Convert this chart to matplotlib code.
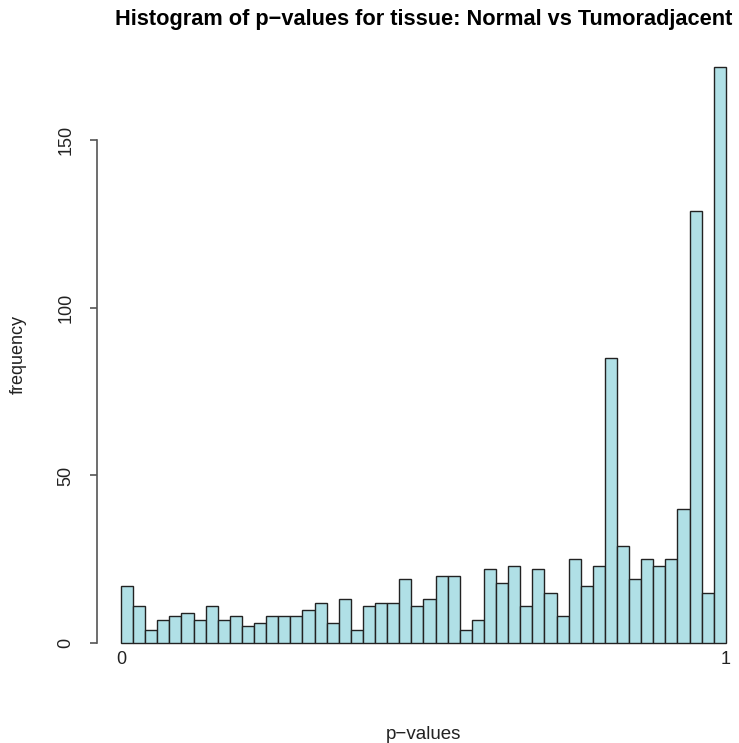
import numpy as np
import matplotlib.pyplot as plt

plt.rcParams['font.family'] = ['Liberation Sans', 'DejaVu Sans']

# p-value histogram: 50 equal bins over [0, 1]
bin_edges = np.linspace(0, 1, 51)
counts = [17, 11, 4, 7, 8, 9, 7, 11, 7, 8,
          5, 6, 8, 8, 8, 10, 12, 6, 13, 4,
          11, 12, 12, 19, 11, 13, 20, 20, 4, 7,
          22, 18, 23, 11, 22, 15, 8, 25, 17, 23,
          85, 29, 19, 25, 23, 25, 40, 129, 15, 172]
x_ticks = [0, 1]
y_ticks = [0, 50, 100, 150]

fig = plt.figure(figsize=(7.39, 7.43), dpi=100)
ax = fig.add_axes([0.131, 0.1035, 0.884, 0.838])

ax.bar(bin_edges[:-1], counts, width=np.diff(bin_edges), align='edge',
       color='#b0e0e6', edgecolor='#222222', linewidth=1.0)

# R-style axis ranges (4% padding)
ax.set_xlim(-0.04, 1.04)
ax.set_ylim(-0.04 * max(counts), 1.04 * max(counts))

for side in ['top', 'right', 'bottom']:
    ax.spines[side].set_visible(False)
ax.spines['left'].set_bounds(0, 150)
ax.spines['left'].set_color('#555555')
ax.spines['left'].set_linewidth(1.2)

ax.set_yticks(y_ticks)
ax.set_yticklabels([str(t) for t in y_ticks], rotation=90, va='center')
ax.tick_params(axis='y', length=5, width=1.2, color='#555555', pad=11,
               labelsize=13, labelcolor='#222222')

ax.set_xticks(x_ticks)
ax.set_xticklabels(['0', '1'])
ax.tick_params(axis='x', length=0, pad=-11, labelsize=13, labelcolor='#222222')

ax.set_title('Histogram of p\u2212values for tissue: Normal vs Tumoradjacent',
             fontsize=15.7, fontweight='bold', pad=13)
ax.set_xlabel('p\u2212values', fontsize=13.5, labelpad=42, color='#222222')
ax.set_ylabel('frequency', fontsize=13, labelpad=22, color='#222222')

fig.savefig('out.png', dpi=100, facecolor='white')
